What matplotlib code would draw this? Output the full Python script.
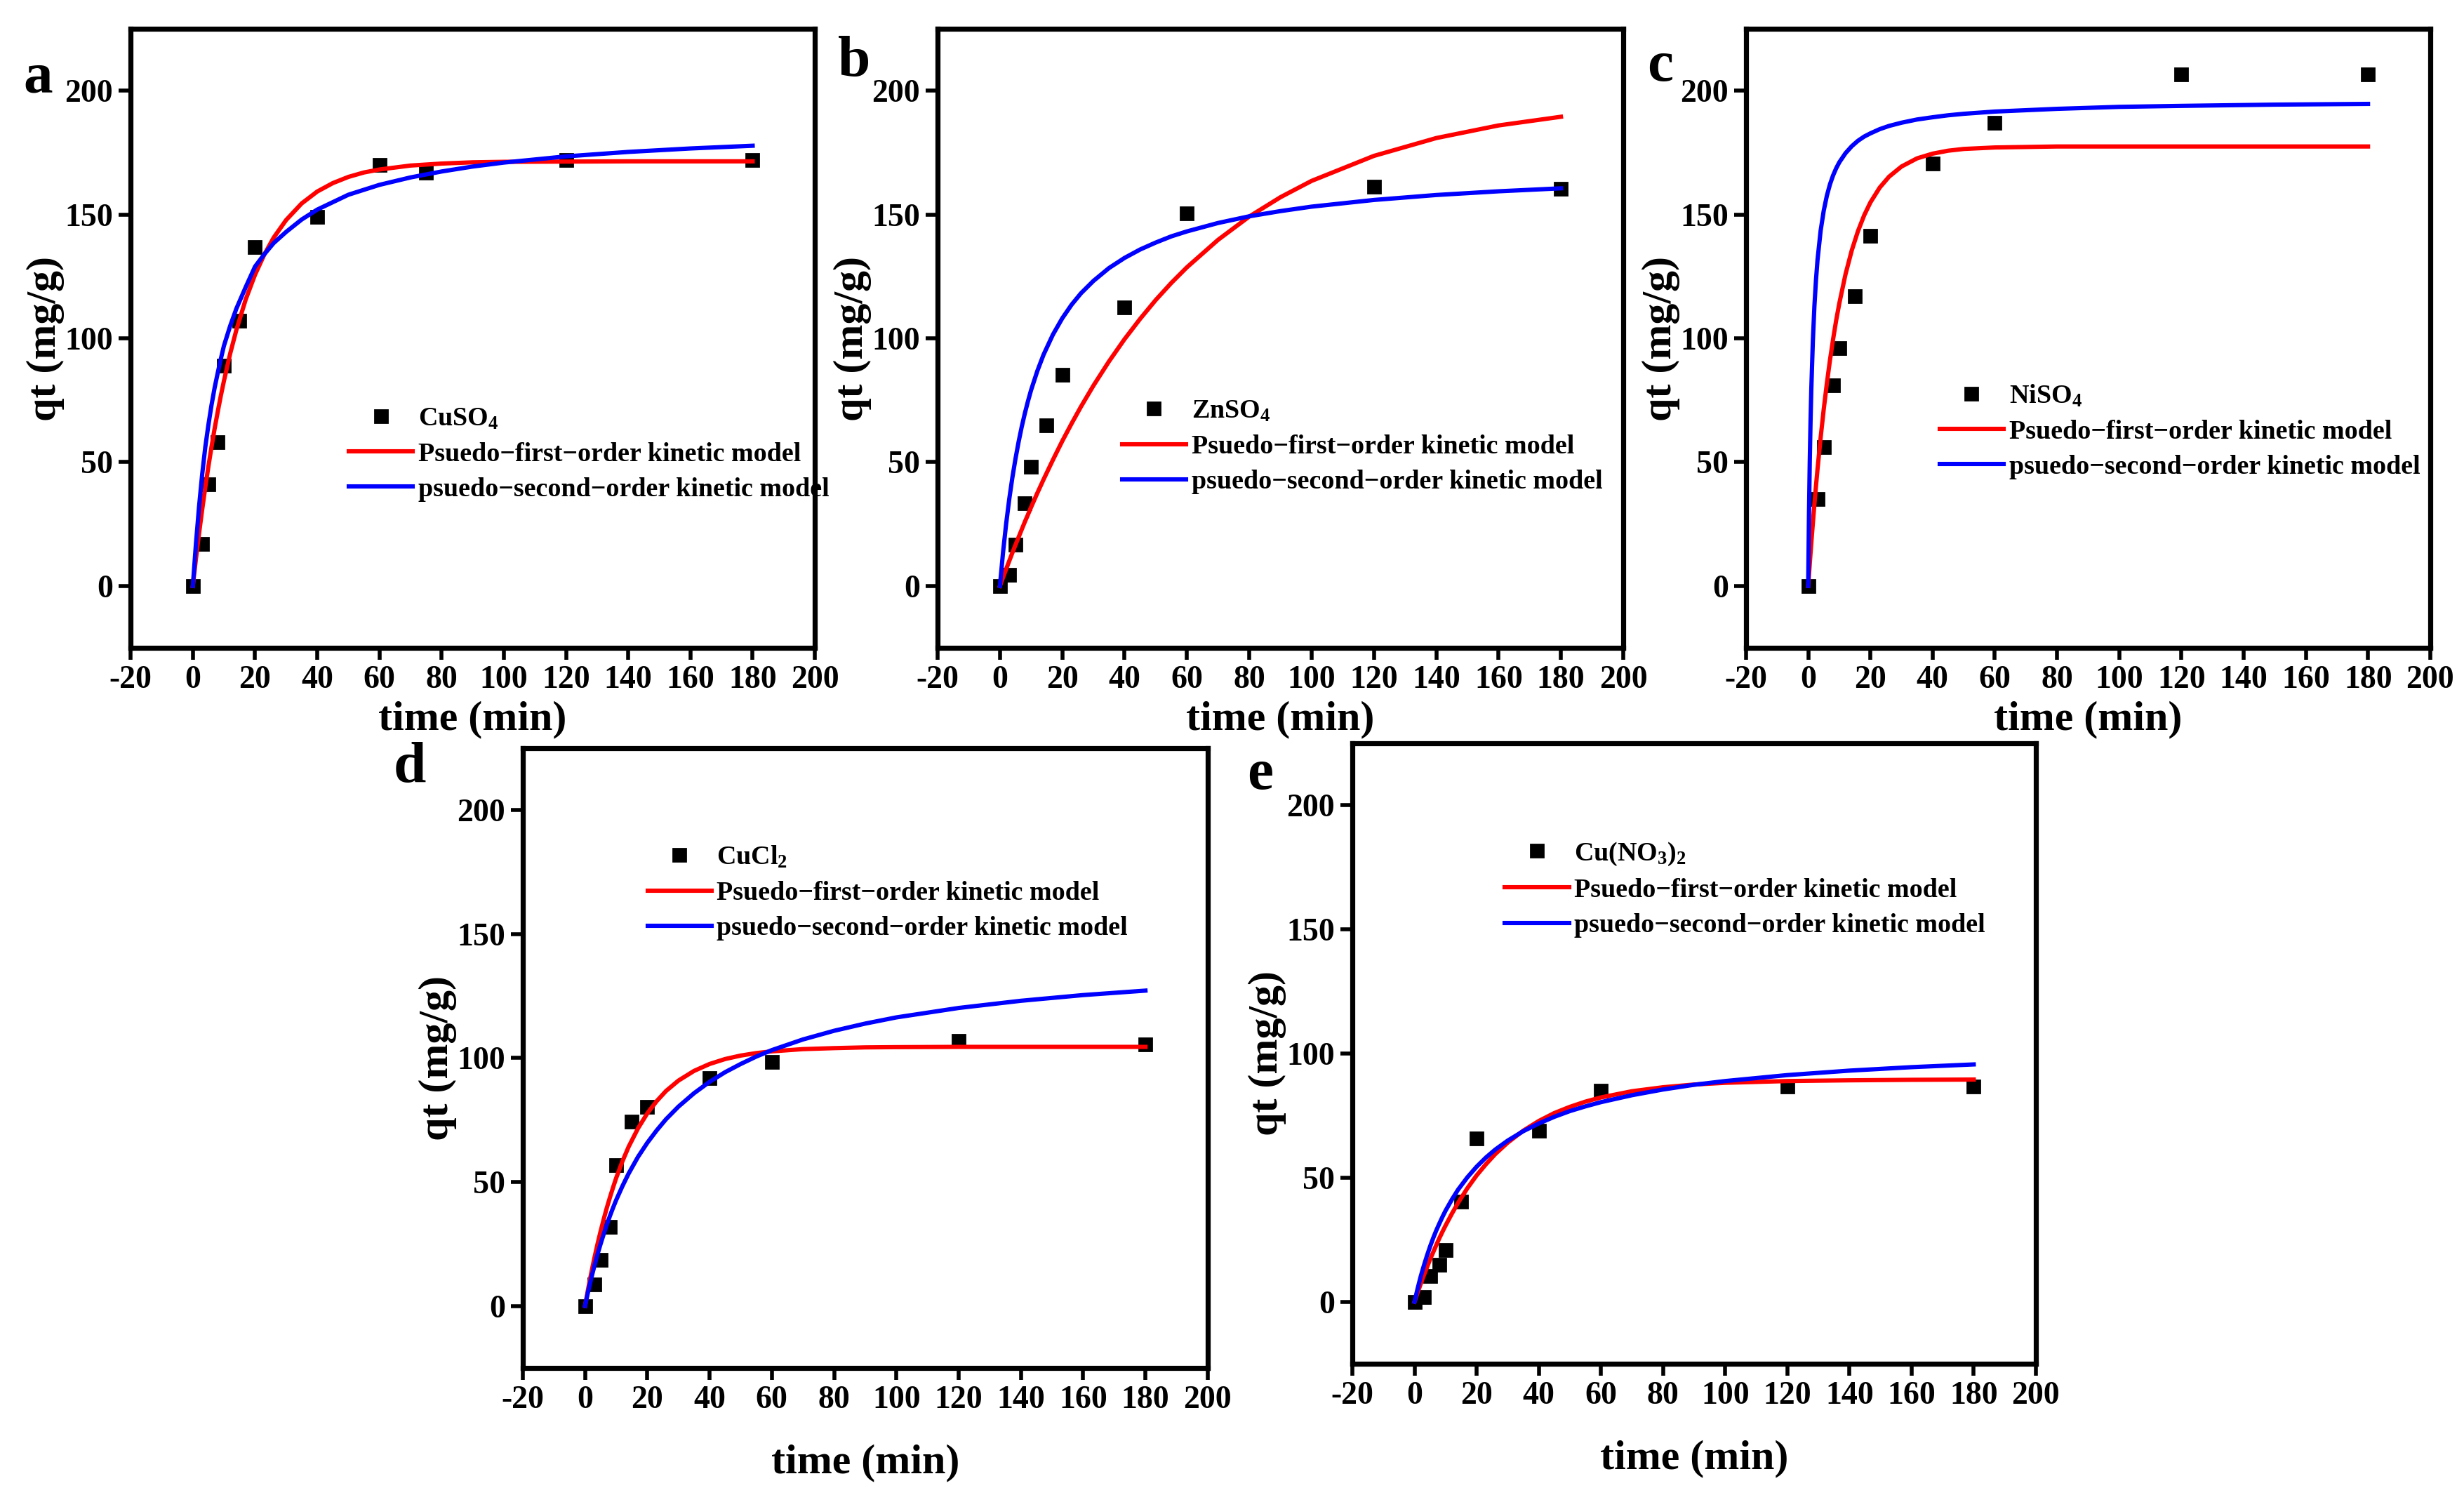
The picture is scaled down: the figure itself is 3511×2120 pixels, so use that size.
import matplotlib
matplotlib.use("Agg")
import matplotlib.pyplot as plt

plt.rcParams['font.family'] = ['Liberation Serif', 'DejaVu Serif']
plt.rcParams['font.weight'] = 'bold'
plt.rcParams['axes.unicode_minus'] = False
plt.rcParams['mathtext.fontset'] = 'custom'
plt.rcParams['mathtext.rm'] = 'Liberation Serif:bold'
plt.rcParams['mathtext.it'] = 'Liberation Serif:bold'
plt.rcParams['mathtext.bf'] = 'Liberation Serif:bold'
plt.rcParams['mathtext.default'] = 'rm'

# measured points (time in min, qt in mg/g)
t_a = [0, 3, 5, 8, 10, 15, 20, 40, 60, 75, 120, 180]
q_a = [0, 17, 41, 58, 89, 107, 137, 149, 170, 167, 172, 172]
t_pts = [0, 3, 5, 8, 10, 15, 20, 40, 60, 120, 180]
q_b = [0, 4.6, 16.6, 33.4, 48.1, 65, 85.2, 112.5, 150.5, 161.2, 160.5]
q_c = [0, 35, 56, 81, 96, 117, 141.5, 170.6, 187, 206.5, 206.5]
q_d = [0, 8.6, 18.7, 31.9, 56.7, 74.4, 80.2, 91.9, 98.5, 106.9, 105.5]
q_e = [0, 2, 10.3, 14.8, 20.9, 40.2, 65.8, 68.9, 84.9, 86.8, 86.8]

# fitted curves, values
t_fit = [0, 1, 2, 3, 4, 5, 6, 7, 8, 9, 10, 12, 14, 17, 20, 23, 26, 30, 35, 40, 45, 50, 55, 60,
         70, 80, 90, 100, 120, 140, 160, 180]
pfo_a = [0, 11.0, 21.2, 30.8, 39.8, 48.2, 56.1, 63.5, 70.3, 76.8, 82.8, 93.8, 103.4, 115.7, 125.7, 133.9,
         140.7, 147.8, 154.5, 159.3, 162.7, 165.2, 167.0, 168.2, 169.8, 170.6, 171.1, 171.3, 171.4, 171.5, 171.5, 171.5]
pso_a = [0, 17, 32, 45, 56, 65, 73, 80, 86, 91.7, 97, 105, 112, 120.7, 129, 134,
         138.5, 143, 148, 152, 155, 158, 160, 162, 165, 167.4, 169.4, 171, 173.5, 175.3, 176.7, 177.8]
pfo_b = [0, 3.4, 6.8, 10.1, 13.4, 16.6, 19.7, 22.8, 25.9, 28.8, 31.8, 37.5, 43.0, 50.9, 58.5, 65.6,
         72.4, 80.9, 90.7, 99.7, 107.9, 115.5, 122.4, 128.7, 139.8, 149.2, 157.0, 163.6, 173.7, 180.9, 186.0, 189.5]
pso_b = [0, 13.5, 25.1, 35.1, 43.8, 51.4, 58.2, 64.3, 69.7, 74.6, 79.1, 86.8, 93.4, 101.5, 108.1, 113.6,
         118.2, 123.2, 128.4, 132.5, 135.9, 138.7, 141.2, 143.2, 146.6, 149.3, 151.4, 153.2, 155.9, 157.9, 159.4, 160.6]
pfo_d = [0, 6.9, 13.3, 19.3, 24.9, 30.1, 35.0, 39.6, 43.8, 47.8, 51.6, 58.3, 64.2, 71.6, 77.7, 82.6,
         86.7, 90.9, 94.8, 97.6, 99.6, 101.0, 102.0, 102.7, 103.6, 104.0, 104.3, 104.4, 104.5, 104.5, 104.5, 104.5]
pso_d = [0, 5.8, 11.2, 16.1, 20.8, 25.0, 29.0, 32.8, 36.3, 39.6, 42.7, 48.3, 53.4, 60.1, 65.8, 70.8,
         75.3, 80.4, 85.8, 90.4, 94.3, 97.6, 100.6, 103.2, 107.5, 111.0, 113.9, 116.4, 120.2, 123.1, 125.4, 127.2]
pfo_e = [0, 3.7, 7.2, 10.6, 13.8, 17.0, 19.9, 22.8, 25.6, 28.2, 30.7, 35.4, 39.8, 45.7, 50.9, 55.4,
         59.5, 64.1, 68.9, 72.8, 76.0, 78.5, 80.6, 82.3, 84.8, 86.4, 87.5, 88.2, 88.9, 89.2, 89.4, 89.5]
pso_e = [0, 5.3, 10.2, 14.5, 18.5, 22.2, 25.6, 28.7, 31.5, 34.2, 36.7, 41.1, 45.1, 50.1, 54.4, 58.1,
         61.3, 64.9, 68.7, 71.8, 74.5, 76.8, 78.7, 80.4, 83.2, 85.5, 87.4, 88.9, 91.3, 93.1, 94.5, 95.6]
# NiSO4 rises very fast, so a finer grid near zero
t_fit_c = [0, 0.25, 0.5, 0.75, 1, 1.5, 2, 2.5, 3, 4, 5, 6, 7, 8, 9, 10, 12, 14, 16, 18, 20, 23, 26, 30,
           35, 40, 45, 50, 60, 80, 100, 120, 150, 180]
pfo_c = [0, 4.5, 8.9, 13.2, 17.4, 25.4, 33.1, 40.3, 47.2, 59.9, 71.4, 81.8, 91.2, 99.6, 107.3, 114.1,
         125.9, 135.5, 143.3, 149.7, 154.9, 160.9, 165.3, 169.4, 172.7, 174.6, 175.8, 176.5, 177.1, 177.5,
         177.5, 177.5, 177.5, 177.5]
pso_c = [0, 28.5, 49.8, 66.2, 79.4, 99.0, 113.1, 123.5, 131.7, 143.5, 151.6, 157.6, 162.2, 165.8, 168.7, 171.1,
         174.8, 177.6, 179.8, 181.5, 182.8, 184.5, 185.8, 187.1, 188.4, 189.3, 190.1, 190.7, 191.6, 192.7,
         193.5, 193.9, 194.4, 194.7]

salts = ['CuSO$_4$', 'ZnSO$_4$', 'NiSO$_4$', 'CuCl$_2$', 'Cu(NO$_3$)$_2$']
letters = ['a', 'b', 'c', 'd', 'e']

panels = [
    (t_a, q_a, t_fit, pfo_a, pso_a),
    (t_pts, q_b, t_fit, pfo_b, pso_b),
    (t_pts, q_c, t_fit_c, pfo_c, pso_c),
    (t_pts, q_d, t_fit, pfo_d, pso_d),
    (t_pts, q_e, t_fit, pfo_e, pso_e),
]

axes_pos = [
    [0.0530, 0.5646, 0.2776, 0.4160],
    [0.3804, 0.5646, 0.2782, 0.4160],
    [0.7084, 0.5646, 0.2776, 0.4160],
    [0.2121, 0.0807, 0.2779, 0.4165],
    [0.5487, 0.0835, 0.2773, 0.4170],
]
letter_pos = [(0.0154, 0.947), (0.3465, 0.9585), (0.6737, 0.955), (0.1663, 0.4835), (0.5114, 0.4788)]
legend_anchor = [(0.319, 0.313), (0.269, 0.325), (0.283, 0.350), (0.182, 0.767), (0.223, 0.765)]
xlabel_pad = [3, 3, 3, 15, 15]

fig = plt.figure(figsize=(17.56, 10.6), dpi=200)

for i in range(5):
    t_m, q_m, t_f, q_pfo, q_pso = panels[i]
    ax = fig.add_axes(axes_pos[i])
    h0, = ax.plot(t_m, q_m, linestyle='none', marker='s', markersize=6.8, color='black', zorder=2)
    h1, = ax.plot(t_f, q_pfo, color='#ff0000', linewidth=2.2, zorder=3)
    h2, = ax.plot(t_f, q_pso, color='#0000ff', linewidth=2.2, zorder=4)
    ax.set_xlim(-20, 200)
    ax.set_ylim(-25, 225)
    ax.set_xticks(range(-20, 201, 20))
    ax.set_yticks(range(0, 201, 50))
    ax.tick_params(direction='out', length=6, width=2, labelsize=16.5, pad=3, top=False, right=False)
    for lab in ax.get_xticklabels() + ax.get_yticklabels():
        lab.set_fontweight('bold')
    for sp in ax.spines.values():
        sp.set_linewidth(2.6)
    ax.set_xlabel('time (min)', fontsize=21.6, fontweight='bold', labelpad=xlabel_pad[i])
    ax.set_ylabel('qt (mg/g)', fontsize=21.6, fontweight='bold', labelpad=0)
    ax.legend([h0, h1, h2],
              [salts[i], 'Psuedo\u2212first\u2212order kinetic model', 'psuedo\u2212second\u2212order kinetic model'],
              loc='center left', bbox_to_anchor=legend_anchor[i], frameon=False, numpoints=1,
              handlelength=2.4, handletextpad=0.2, labelspacing=0.4, borderpad=0, borderaxespad=0,
              prop={'size': 13.7, 'weight': 'bold'})
    fig.text(letter_pos[i][0], letter_pos[i][1], letters[i], fontsize=30, fontweight='bold',
             ha='center', va='center')

fig.savefig('out.png', dpi=200)
